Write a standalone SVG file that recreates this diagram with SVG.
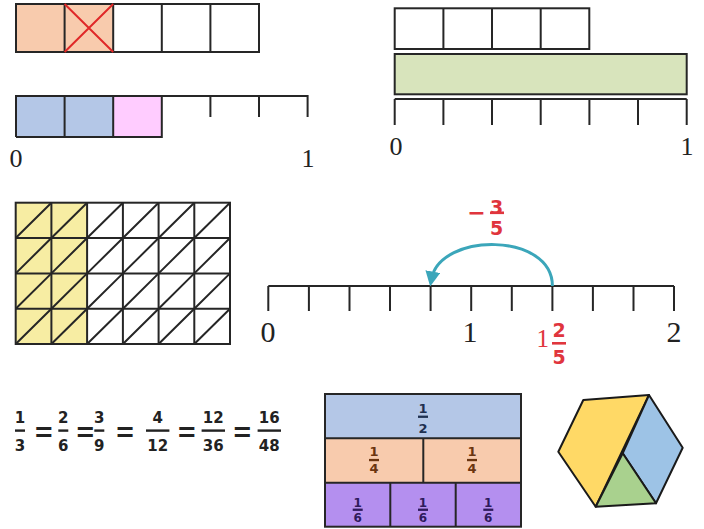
<svg xmlns="http://www.w3.org/2000/svg" width="704" height="529" viewBox="0 0 704 529">
<style>
.ln{stroke:#262626;stroke-width:2;fill:none}
.lbl{font-family:"Liberation Serif","DejaVu Serif",serif;fill:#222;text-anchor:middle}
.fr{font-family:"DejaVu Sans",sans-serif;font-weight:bold;text-anchor:middle}
.eq{font-family:"DejaVu Sans",sans-serif;font-size:24px;text-anchor:middle;fill:#222}
.red{fill:#E0353D}
</style>
<defs>
<marker id="ah" markerWidth="5" markerHeight="5" refX="2.5" refY="2.5" orient="auto" markerUnits="strokeWidth" viewBox="0 0 5 5">
<path d="M0,0 L5,2.5 L0,5 z" fill="#3BA6BA"/>
</marker>
</defs>
<rect width="704" height="529" fill="#fff"/>

<g id="bar-fifths">
<rect x="16" y="4" width="97.2" height="48" fill="#F8CBAD"/>
<rect x="16" y="4" width="243" height="48" class="ln"/>
<path class="ln" d="M64.6,4V52M113.2,4V52M161.8,4V52M210.4,4V52"/>
<path d="M64.6,4L113.2,52M113.2,4L64.6,52" stroke="#E02828" stroke-width="2"/>
</g>

<g id="bar-sixths">
<rect x="16" y="96" width="97.2" height="41" fill="#B4C7E7"/>
<rect x="113.2" y="96" width="48.6" height="41" fill="#FFCCFF"/>
<path class="ln" d="M16,137V96H307.6V117M16,137H161.8V96M64.6,96V137M113.2,96V137M210.4,96V117M259,96V117"/>
<text class="lbl" x="16" y="167" font-size="26">0</text>
<text class="lbl" x="308" y="167" font-size="26">1</text>
</g>

<g id="bar-quarters">
<rect x="394.7" y="8.3" width="194.6" height="40.7" class="ln"/>
<path class="ln" d="M443.4,8.3V49M492,8.3V49M540.7,8.3V49"/>
<rect x="394.7" y="54" width="292" height="40.3" fill="#D8E4BC" stroke="#262626" stroke-width="2"/>
<path class="ln" d="M394.7,99H686.7M394.7,99V125M443.4,99V125M492,99V125M540.7,99V125M589.4,99V125M638,99V125M686.7,99V125"/>
<text class="lbl" x="396" y="155" font-size="26">0</text>
<text class="lbl" x="687" y="155" font-size="26">1</text>
</g>

<g id="grid">
<rect x="15.7" y="202.7" width="71.4" height="141.3" fill="#F7EDA3"/>
<rect x="15.7" y="202.7" width="214.3" height="141.3" class="ln"/>
<path class="ln" d="M51.4,202.7V344M87.1,202.7V344M122.9,202.7V344M158.6,202.7V344M194.3,202.7V344M15.7,238H230M15.7,273.4H230M15.7,308.7H230"/>
<path class="ln" d="M15.7,238L51.4,202.7M51.4,238L87.1,202.7M87.1,238L122.9,202.7M122.9,238L158.6,202.7M158.6,238L194.3,202.7M194.3,238L230,202.7
M15.7,273.4L51.4,238M51.4,273.4L87.1,238M87.1,273.4L122.9,238M122.9,273.4L158.6,238M158.6,273.4L194.3,238M194.3,273.4L230,238
M15.7,308.7L51.4,273.4M51.4,308.7L87.1,273.4M87.1,308.7L122.9,273.4M122.9,308.7L158.6,273.4M158.6,308.7L194.3,273.4M194.3,308.7L230,273.4
M15.7,344L51.4,308.7M51.4,344L87.1,308.7M87.1,344L122.9,308.7M122.9,344L158.6,308.7M158.6,344L194.3,308.7M194.3,344L230,308.7"/>
</g>

<g id="number-line">
<path class="ln" d="M268.3,286H674M268.3,286V311M308.9,286V311M349.5,286V311M390,286V311M430.6,286V311M471.2,286V311M511.8,286V311M552.4,286V311M592.9,286V311M633.5,286V311M674,286V311"/>
<text class="lbl" x="268" y="342" font-size="30">0</text>
<text class="lbl" x="470" y="342" font-size="30">1</text>
<text class="lbl" x="674" y="342" font-size="30">2</text>
</g>

<g id="connectors">
<path d="M552.4,286 C552.4,232 440,232 431.5,279" fill="none" stroke="#3BA6BA" stroke-width="3" marker-end="url(#ah)"/>
</g>

<g id="jump-label">
<text class="fr red" x="476.5" y="220" font-size="22">−</text>
<text class="fr red" x="496.7" y="214" font-size="19">3</text>
<rect x="490" y="211.5" width="14" height="2.6" fill="#E0353D"/>
<text class="fr red" x="496.7" y="234.5" font-size="19">5</text>
</g>

<g id="mixed-label">
<text class="lbl red" x="542.7" y="347" font-size="25">1</text>
<text class="fr red" x="559" y="337" font-size="19">2</text>
<rect x="552" y="342" width="14" height="2.6" fill="#E0353D"/>
<text class="fr red" x="559" y="363.5" font-size="19">5</text>
</g>

<g id="equivalent-fractions">
<g class="fr" font-size="15" fill="#222">
<text x="20" y="423">1</text><rect x="15" y="429.4" width="10" height="2.4"/><text x="20" y="450.5">3</text>
<text x="63.3" y="423">2</text><rect x="58.3" y="429.4" width="10" height="2.4"/><text x="63.3" y="450.5">6</text>
<text x="99.3" y="423">3</text><rect x="94.3" y="429.4" width="10" height="2.4"/><text x="99.3" y="450.5">9</text>
<text x="157.7" y="423">4</text><rect x="146" y="429.4" width="23.4" height="2.4"/><text x="157.7" y="450.5">12</text>
<text x="213.3" y="423">12</text><rect x="201.6" y="429.4" width="23.4" height="2.4"/><text x="213.3" y="450.5">36</text>
<text x="269.3" y="423">16</text><rect x="257.6" y="429.4" width="23.4" height="2.4"/><text x="269.3" y="450.5">48</text>
</g>
<text class="eq" transform="translate(43.7,442.6) scale(1,1.5)">=</text>
<text class="eq" transform="translate(85.3,442.6) scale(1,1.5)">=</text>
<text class="eq" transform="translate(125,442.6) scale(1,1.5)">=</text>
<text class="eq" transform="translate(186.7,442.6) scale(1,1.5)">=</text>
<text class="eq" transform="translate(242.3,442.6) scale(1,1.5)">=</text>
</g>

<g id="fraction-bars">
<rect x="325" y="394" width="196" height="44.3" fill="#B4C7E7"/>
<rect x="325" y="438.3" width="196" height="44.4" fill="#F8CBAD"/>
<rect x="325" y="482.7" width="196" height="44" fill="#B48FEF"/>
<rect x="325" y="394" width="196" height="132.7" class="ln"/>
<path class="ln" d="M325,438.3H521M325,482.7H521M423.3,438.3V482.7M390.3,482.7V526.7M455.7,482.7V526.7"/>
<g class="fr" font-size="13" fill="#1F3050">
<text x="423" y="412.7">1</text><rect x="418" y="415.6" width="10" height="2.3"/><text x="423" y="433">2</text>
</g>
<g class="fr" font-size="13" fill="#6B3510">
<text x="374" y="456">1</text><rect x="369" y="458.9" width="10" height="2.3"/><text x="374" y="473">4</text>
<text x="472" y="456">1</text><rect x="467" y="458.9" width="10" height="2.3"/><text x="472" y="473">4</text>
</g>
<g class="fr" font-size="12" fill="#2E1A5C">
<text x="357.7" y="507">1</text><rect x="352.7" y="508.6" width="10" height="2.3"/><text x="357.7" y="522">6</text>
<text x="423" y="507">1</text><rect x="418" y="508.6" width="10" height="2.3"/><text x="423" y="522">6</text>
<text x="488.3" y="507">1</text><rect x="483.3" y="508.6" width="10" height="2.3"/><text x="488.3" y="522">6</text>
</g>
</g>

<g id="hexagon" stroke="#1A1A1A" stroke-width="2" stroke-linejoin="round">
<polygon points="583.3,400 649,395 595.7,506.7 558.3,451.7" fill="#FFD966"/>
<polygon points="649,395 682.7,447.7 656,503.3 622.7,453.3" fill="#9DC3E6"/>
<polygon points="622.7,453.3 656,503.3 595.7,506.7" fill="#A9D18E"/>
</g>
</svg>
